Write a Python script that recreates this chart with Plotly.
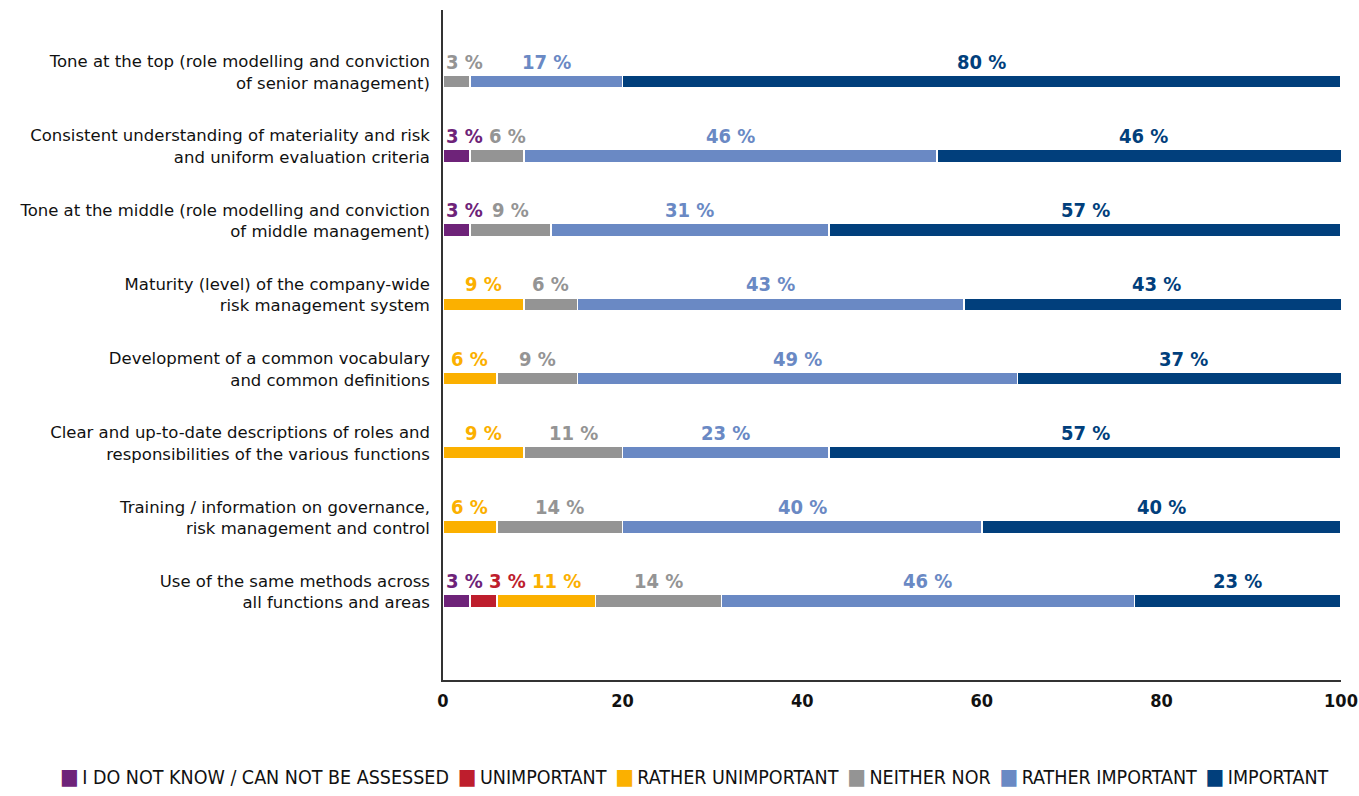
import plotly.graph_objects as go

# Survey: importance of factors for a consistent risk culture (shares in %)
categories = [
    "Tone at the top (role modelling and conviction<br>of senior management)",
    "Consistent understanding of materiality and risk<br>and uniform evaluation criteria",
    "Tone at the middle (role modelling and conviction<br>of middle management)",
    "Maturity (level) of the company-wide<br>risk management system",
    "Development of a common vocabulary<br>and common definitions",
    "Clear and up-to-date descriptions of roles and<br>responsibilities of the various functions",
    "Training / information on governance,<br>risk management and control",
    "Use of the same methods across<br>all functions and areas",
]

series_names = [
    "I DO NOT KNOW / CAN NOT BE ASSESSED",
    "UNIMPORTANT",
    "RATHER UNIMPORTANT",
    "NEITHER NOR",
    "RATHER IMPORTANT",
    "IMPORTANT",
]

dont_know = [0, 3, 3, 0, 0, 0, 0, 3]
unimportant = [0, 0, 0, 0, 0, 0, 0, 3]
rather_unimportant = [0, 0, 0, 9, 6, 9, 6, 11]
neither_nor = [3, 6, 9, 6, 9, 11, 14, 14]
rather_important = [17, 46, 31, 43, 49, 23, 40, 46]
important = [80, 46, 57, 43, 37, 57, 40, 23]

series_values = [dont_know, unimportant, rather_unimportant,
                 neither_nor, rather_important, important]
colors = ["#6E2379", "#BE1E2D", "#FBB000", "#949494", "#6A89C4", "#013F7C"]

x_ticks = [0, 20, 40, 60, 80, 100]

bold_font = "DejaVu Sans Condensed, sans-serif"
text_font = "DejaVu Sans, sans-serif"
legend_font = "DejaVu Sans Condensed, sans-serif"

W, H = 1359, 796
M_L, M_R, M_T, M_B = 443, 18, 10, 116
plot_w = W - M_L - M_R
plot_h = H - M_T - M_B
X_MAX = 100
px_per_unit = plot_w / X_MAX

LABEL_SIZE = 20


def label_width_px(text, size):
    # rough advance widths of DejaVu Sans Condensed Bold
    w = 0.0
    for ch in text:
        if ch.isdigit():
            w += 0.626
        elif ch == " ":
            w += 0.313
        elif ch == "%":
            w += 0.90
        else:
            w += 0.6
    return w * size


rows = list(range(len(categories)))

fig = go.Figure()
for name, vals, col in zip(series_names, series_values, colors):
    fig.add_trace(go.Bar(
        y=rows, x=vals, name=name, orientation="h",
        marker=dict(color=col, line=dict(color="white", width=1.5)),
        width=0.175, offset=0.04,
        hoverinfo="x+name",
    ))

# Percentage labels above each segment: centred on the segment,
# nudged right where they would collide with the previous label
annotations = []
gap_units = 6 / px_per_unit
for r in rows:
    start = 0
    prev_right = 3 / px_per_unit - gap_units
    for vals, col in zip(series_values, colors):
        v = vals[r]
        if v > 0:
            txt = f"{v} %"
            w = label_width_px(txt, LABEL_SIZE) / px_per_unit
            left = max(start + v / 2 - w / 2, prev_right + gap_units)
            prev_right = left + w
            annotations.append(dict(
                x=left + w / 2, y=r - 0.14, xref="x", yref="y",
                text=f"<b>{txt}</b>", showarrow=False,
                font=dict(family=bold_font, size=LABEL_SIZE, color=col),
                xanchor="center", yanchor="middle",
            ))
        start += v

# Legend row under the axis: coloured squares followed by the series names
legend_parts = [
    f"<span style='color:{c};font-size:22px'>\u25A0</span>\u2009{n}"
    for n, c in zip(series_names, colors)
]
annotations.append(dict(
    x=(694 - M_L) / plot_w, y=-(776 - (M_T + plot_h)) / plot_h,
    xref="paper", yref="paper",
    text="\u2002".join(legend_parts), showarrow=False,
    font=dict(family=legend_font, size=19.5, color="#111111"),
    xanchor="center", yanchor="middle",
))

fig.update_layout(
    barmode="stack",
    width=W, height=H,
    margin=dict(l=M_L, r=M_R, t=M_T, b=M_B),
    paper_bgcolor="white", plot_bgcolor="white",
    annotations=annotations,
    showlegend=False,
    xaxis=dict(
        range=[0, X_MAX], tickvals=x_ticks, ticktext=[f"<b>{t}</b>" for t in x_ticks],
        showgrid=False, zeroline=False, automargin=False,
        showline=True, linecolor="#333333", linewidth=1.5,
        tickfont=dict(family=bold_font, size=18, color="#111111"),
        ticks="", ticklabelstandoff=4,
    ),
    yaxis=dict(
        range=[8.19, -0.837], tickvals=rows, ticktext=categories,
        showgrid=False, zeroline=False, automargin=False,
        showline=True, linecolor="#333333", linewidth=1.5,
        tickfont=dict(family=text_font, size=16.5, color="#111111"),
        ticks="", ticklabelstandoff=8,
    ),
)

fig.write_html("out.html")
